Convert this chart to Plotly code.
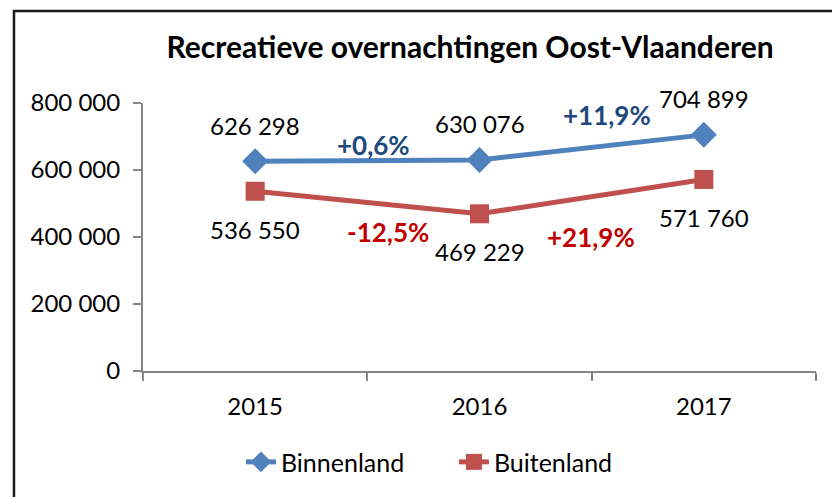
import plotly.graph_objects as go

years = ["2015", "2016", "2017"]
binnenland = [626298, 630076, 704899]
buitenland = [536550, 469229, 571760]
y_ticks = [0, 200000, 400000, 600000, 800000]
y_tick_labels = ["0", "200 000", "400 000", "600 000", "800 000"]

BLUE = "#4F81BD"
RED = "#C0504D"
DARK_BLUE = "#1F497D"
DARK_RED = "#C00000"
FONT = "Lato"


def fmt(v):
    return f"{v:,}".replace(",", " ")


def pct(a, b):
    p = (b / a - 1) * 100
    return f"{p:+.1f}%".replace(".", ",")


fig = go.Figure()
fig.add_trace(go.Scatter(
    x=years, y=binnenland, name="Binnenland", mode="lines+markers",
    line=dict(color=BLUE, width=5),
    marker=dict(symbol="diamond", size=20, color=BLUE),
))
fig.add_trace(go.Scatter(
    x=years, y=buitenland, name="Buitenland", mode="lines+markers",
    line=dict(color=RED, width=5),
    marker=dict(symbol="square", size=19, color=RED),
))

annotations = []
for i, v in enumerate(binnenland):
    annotations.append(dict(x=i, y=v, xref="x", yref="y", text=fmt(v), showarrow=False,
                            yshift=36, font=dict(family=FONT, size=24, color="#000000")))
for i, v in enumerate(buitenland):
    annotations.append(dict(x=i, y=v, xref="x", yref="y", text=fmt(v), showarrow=False,
                            yshift=-38, font=dict(family=FONT, size=24, color="#000000")))

# percentage change labels (placement offsets in layout)
pct_pos_b = [(0.526, 674600), (1.569, 764200)]
pct_pos_u = [(0.593, 414900), (1.498, 400000)]
for k in range(2):
    annotations.append(dict(x=pct_pos_b[k][0], y=pct_pos_b[k][1], xref="x", yref="y",
                            text="<b>" + pct(binnenland[k], binnenland[k + 1]) + "</b>",
                            showarrow=False, font=dict(family=FONT, size=26, color=DARK_BLUE)))
    annotations.append(dict(x=pct_pos_u[k][0], y=pct_pos_u[k][1], xref="x", yref="y",
                            text="<b>" + pct(buitenland[k], buitenland[k + 1]) + "</b>",
                            showarrow=False, font=dict(family=FONT, size=26, color=DARK_RED)))

fig.update_layout(
    width=832, height=497,
    margin=dict(l=143, r=16, t=103, b=126),
    paper_bgcolor="white", plot_bgcolor="white",
    title=dict(text="<b>Recreatieve overnachtingen Oost-Vlaanderen</b>",
               x=0.565, xanchor="center", y=0.905, yanchor="middle",
               font=dict(family=FONT, size=30, color="#000000")),
    xaxis=dict(type="category", range=[-0.5, 2.5], showline=True, linecolor="#868686",
               linewidth=2, ticks="outside", tickson="boundaries", ticklen=8,
               tickcolor="#868686", tickwidth=2, showgrid=False, zeroline=False,
               ticklabelstandoff=13,
               tickfont=dict(family=FONT, size=24, color="#000000")),
    yaxis=dict(range=[0, 800000], tickvals=y_ticks, ticktext=y_tick_labels,
               showline=True, linecolor="#868686", linewidth=2, ticks="outside",
               ticklen=8, tickcolor="#868686", tickwidth=2, showgrid=False,
               zeroline=False, ticklabelstandoff=8,
               tickfont=dict(family=FONT, size=24, color="#000000")),
    legend=dict(orientation="h", x=0.462, xanchor="center", y=-0.34, yanchor="middle",
                font=dict(family=FONT, size=25, color="#000000"),
                entrywidth=168, entrywidthmode="pixels",
                bgcolor="rgba(0,0,0,0)"),
    showlegend=True,
    annotations=annotations,
    shapes=[dict(type="path", xref="paper", yref="paper",
                 path="M -0.1917,-0.6 L -0.1917,1.343 L 1.1,1.343",
                 line=dict(color="#1a1a1a", width=2.5))],
)

fig.write_html("out.html", config={"displayModeBar": False},
               post_script="document.body.style.margin='0';document.body.style.padding='0';")
